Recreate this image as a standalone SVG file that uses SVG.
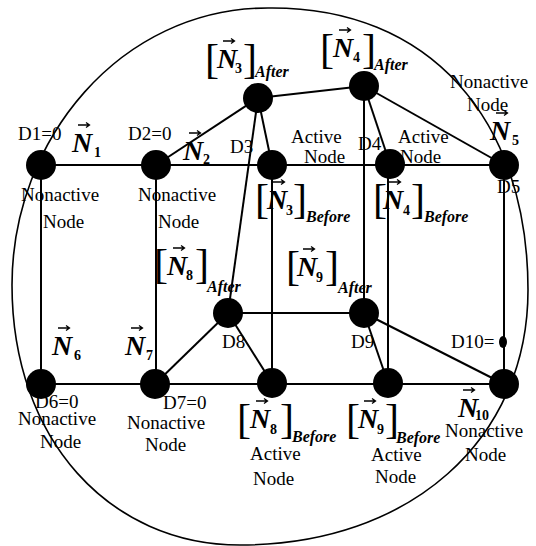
<svg xmlns="http://www.w3.org/2000/svg" width="536" height="546" viewBox="0 0 536 546">
<style>
text{font-family:"Liberation Serif","Times New Roman",serif;fill:#000}
.lb{font-size:19px}
.nv{font-size:28px;font-weight:bold;font-style:italic}
.sb{font-size:14px;font-weight:bold}
.br{font-size:42px}
.ab{font-size:16px;font-weight:bold;font-style:italic}
.nd{fill:#000}
.ln{stroke:#000;stroke-width:2;fill:none}
.rg{stroke:#000;stroke-width:1.6;fill:none}
.vec{stroke:#000;stroke-width:1.3;fill:none}
</style>
<defs>
<path id="arw" d="M0,0 h11 M8,-2.5 l3.5,2.5 l-3.5,2.5"/>
</defs>
<rect width="536" height="546" fill="#fff"/>
<g id="range">
<path class="rg" d="M268,8 C430,6 528,120 528,290 C528,440 410,545 240,545 C110,545 12,440 12,285 C12,140 120,8 268,8 Z"/>
</g>
<g id="connectors">
<line class="ln" x1="41" y1="165" x2="504" y2="165"/>
<line class="ln" x1="41" y1="384" x2="504" y2="384"/>
<line class="ln" x1="41" y1="165" x2="41" y2="384"/>
<line class="ln" x1="156" y1="165" x2="156" y2="384"/>
<line class="ln" x1="272" y1="165" x2="272" y2="383"/>
<line class="ln" x1="388" y1="164" x2="388" y2="383"/>
<line class="ln" x1="504" y1="165" x2="504" y2="384"/>
<line class="ln" x1="156" y1="165" x2="258" y2="98"/>
<line class="ln" x1="258" y1="98" x2="272" y2="165"/>
<line class="ln" x1="258" y1="98" x2="364" y2="86"/>
<line class="ln" x1="258" y1="98" x2="228" y2="313"/>
<line class="ln" x1="364" y1="86" x2="504" y2="165"/>
<line class="ln" x1="364" y1="86" x2="390" y2="164"/>
<line class="ln" x1="364" y1="86" x2="364" y2="313"/>
<line class="ln" x1="228" y1="313" x2="364" y2="313"/>
<line class="ln" x1="228" y1="313" x2="155" y2="384"/>
<line class="ln" x1="228" y1="313" x2="272" y2="383"/>
<line class="ln" x1="364" y1="313" x2="388" y2="383"/>
<line class="ln" x1="364" y1="313" x2="504" y2="384"/>
</g>
<g id="n1">
<circle class="nd" cx="41" cy="165" r="15"/>
<text class="lb" x="18" y="140">D1=0</text>
<text x="72" y="152"><tspan class="nv">N</tspan><tspan class="sb" x="94" y="157">1</tspan></text>
<use href="#arw" class="vec" x="78" y="125"/>
<text class="lb" x="21" y="201">Nonactive</text>
<text class="lb" x="43" y="228">Node</text>
</g>
<g id="n2">
<circle class="nd" cx="156" cy="165" r="15"/>
<text class="lb" x="128" y="140">D2=0</text>
<text x="183" y="160"><tspan class="nv">N</tspan><tspan class="sb" x="203" y="164">2</tspan></text>
<use href="#arw" class="vec" x="189" y="133"/>
<text class="lb" x="138" y="201">Nonactive</text>
<text class="lb" x="158" y="228">Node</text>
</g>
<g id="n3">
<circle class="nd" cx="272" cy="165" r="15"/>
<text class="lb" x="230" y="153">D3</text>
<text class="lb" x="291" y="143">Active</text>
<text class="lb" x="304" y="163">Node</text>
<text x="255" y="213"><tspan class="br">[</tspan><tspan class="nv" x="267" y="209">N</tspan><tspan class="sb" x="286" y="215">3</tspan><tspan class="br" x="293" y="213">]</tspan><tspan class="ab" x="306" y="222">Before</tspan></text>
<use href="#arw" class="vec" x="273" y="182"/>
</g>
<g id="n4">
<circle class="nd" cx="390" cy="164" r="15"/>
<text class="lb" x="358" y="150">D4</text>
<text class="lb" x="398" y="143">Active</text>
<text class="lb" x="400" y="163">Node</text>
<text x="373" y="213"><tspan class="br">[</tspan><tspan class="nv" x="383" y="209">N</tspan><tspan class="sb" x="403" y="215">4</tspan><tspan class="br" x="411" y="213">]</tspan><tspan class="ab" x="424" y="222">Before</tspan></text>
<use href="#arw" class="vec" x="389" y="182"/>
</g>
<g id="n5">
<circle class="nd" cx="504" cy="165" r="15"/>
<text class="lb" x="450" y="88">Nonactive</text>
<text class="lb" x="467" y="111">Node</text>
<text x="490" y="140"><tspan class="nv">N</tspan><tspan class="sb" x="512" y="145">5</tspan></text>
<use href="#arw" class="vec" x="496" y="113"/>
<text class="lb" x="497" y="193">D5</text>
</g>
<g id="n3a">
<circle class="nd" cx="258" cy="98" r="15"/>
<text x="205" y="73"><tspan class="br">[</tspan><tspan class="nv" x="217" y="68">N</tspan><tspan class="sb" x="235" y="73">3</tspan><tspan class="br" x="243" y="73">]</tspan><tspan class="ab" x="255" y="77">After</tspan></text>
<use href="#arw" class="vec" x="223" y="41"/>
</g>
<g id="n4a">
<circle class="nd" cx="364" cy="86" r="15"/>
<text x="320" y="63"><tspan class="br">[</tspan><tspan class="nv" x="333" y="57">N</tspan><tspan class="sb" x="353" y="62">4</tspan><tspan class="br" x="362" y="63">]</tspan><tspan class="ab" x="374" y="70">After</tspan></text>
<use href="#arw" class="vec" x="339" y="30"/>
</g>
<g id="n8a">
<circle class="nd" cx="228" cy="313" r="15"/>
<text x="154" y="278"><tspan class="br">[</tspan><tspan class="nv" x="167" y="275">N</tspan><tspan class="sb" x="186" y="280">8</tspan><tspan class="br" x="195" y="278">]</tspan><tspan class="ab" x="207" y="292">After</tspan></text>
<use href="#arw" class="vec" x="173" y="248"/>
<text class="lb" x="222" y="348">D8</text>
</g>
<g id="n9a">
<circle class="nd" cx="364" cy="313" r="15"/>
<text x="286" y="280"><tspan class="br">[</tspan><tspan class="nv" x="297" y="276">N</tspan><tspan class="sb" x="316" y="282">9</tspan><tspan class="br" x="325" y="280">]</tspan><tspan class="ab" x="338" y="293">After</tspan></text>
<use href="#arw" class="vec" x="303" y="249"/>
<text class="lb" x="351" y="348">D9</text>
</g>
<g id="n6">
<circle class="nd" cx="41" cy="384" r="15"/>
<text x="52" y="355"><tspan class="nv">N</tspan><tspan class="sb" x="74" y="360">6</tspan></text>
<use href="#arw" class="vec" x="58" y="328"/>
<text class="lb" x="35" y="408">D6=0</text>
<text class="lb" x="18" y="425">Nonactive</text>
<text class="lb" x="40" y="448">Node</text>
</g>
<g id="n7">
<circle class="nd" cx="155" cy="384" r="15"/>
<text x="125" y="355"><tspan class="nv">N</tspan><tspan class="sb" x="146" y="360">7</tspan></text>
<use href="#arw" class="vec" x="131" y="328"/>
<text class="lb" x="163" y="409">D7=0</text>
<text class="lb" x="127" y="429">Nonactive</text>
<text class="lb" x="145" y="451">Node</text>
</g>
<g id="n8">
<circle class="nd" cx="272" cy="383" r="15"/>
<text x="237" y="433"><tspan class="br">[</tspan><tspan class="nv" x="250" y="428">N</tspan><tspan class="sb" x="270" y="434">8</tspan><tspan class="br" x="280" y="433">]</tspan><tspan class="ab" x="292" y="442">Before</tspan></text>
<use href="#arw" class="vec" x="256" y="401"/>
<text class="lb" x="250" y="460">Active</text>
<text class="lb" x="253" y="485">Node</text>
</g>
<g id="n9">
<circle class="nd" cx="388" cy="383" r="15"/>
<text x="346" y="433"><tspan class="br">[</tspan><tspan class="nv" x="358" y="428">N</tspan><tspan class="sb" x="377" y="434">9</tspan><tspan class="br" x="385" y="433">]</tspan><tspan class="ab" x="396" y="443">Before</tspan></text>
<use href="#arw" class="vec" x="364" y="401"/>
<text class="lb" x="371" y="461">Active</text>
<text class="lb" x="375" y="483">Node</text>
</g>
<g id="n10">
<circle class="nd" cx="504" cy="384" r="15"/>
<text x="458" y="417"><tspan class="nv">N</tspan><tspan class="sb" x="475" y="420">10</tspan></text>
<use href="#arw" class="vec" x="463" y="390"/>
<text class="lb" x="445" y="437">Nonactive</text>
<text class="lb" x="465" y="461">Node</text>
</g>
<g id="d10">
<ellipse class="nd" cx="503" cy="342" rx="4" ry="6"/>
<text class="lb" x="451" y="348">D10=</text>
</g>
</svg>
